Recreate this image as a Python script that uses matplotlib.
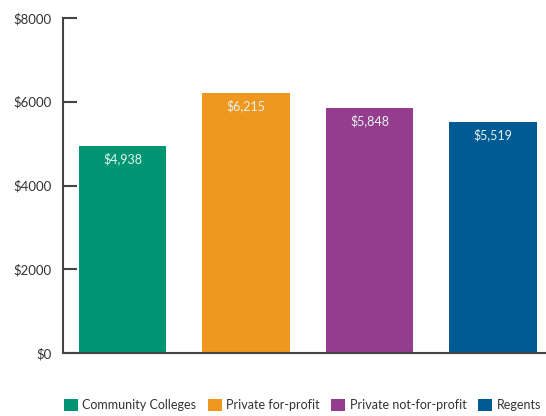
import matplotlib
matplotlib.use("Agg")
import matplotlib.pyplot as plt
from matplotlib.patches import Patch

categories = ["Community Colleges", "Private for-profit", "Private not-for-profit", "Regents"]
values = [4938, 6215, 5848, 5519]
colors = ["#009573", "#EE981F", "#943D8F", "#005A94"]
yticks = [0, 2000, 4000, 6000, 8000]
ytick_labels = ["$0", "$2000", "$4000", "$6000", "$8000"]

plt.rcParams['font.family'] = ['Lato', 'DejaVu Sans']

fig = plt.figure(figsize=(5.46, 4.16), dpi=100)
ax = fig.add_axes([63/546, 1-353/416, (545-63)/546, (353-18)/416])

x = list(range(len(categories)))
bars = ax.bar(x, values, width=0.705, color=colors)
for xi, v in zip(x, values):
    ax.text(xi, v - 310, f"${v:,}", ha="center", va="center", color="#E6F2EE", fontsize=9)

ax.set_xlim(-0.482, 3.421)
ax.set_ylim(0, 8000)
ax.set_yticks(yticks)
ax.set_yticklabels(ytick_labels, fontsize=9.5, color="#333333")
ax.set_xticks([])
ax.tick_params(axis="y", direction="in", length=10, width=1.5, color="#444444", pad=8)
for s in ["top", "right"]:
    ax.spines[s].set_visible(False)
for s in ["left", "bottom"]:
    ax.spines[s].set_color("#444444")
    ax.spines[s].set_linewidth(1.5)

handles = [Patch(facecolor=c, edgecolor="none") for c in colors]
fig.legend(handles, categories, loc="center", bbox_to_anchor=(302.5/546, 1-405/416), ncol=4,
           frameon=False, fontsize=9, handlelength=1.1, handleheight=1.1,
           handletextpad=0.4, columnspacing=0.9, labelcolor="#333333",
           borderpad=0, borderaxespad=0)

fig.savefig("out.png", dpi=100)
